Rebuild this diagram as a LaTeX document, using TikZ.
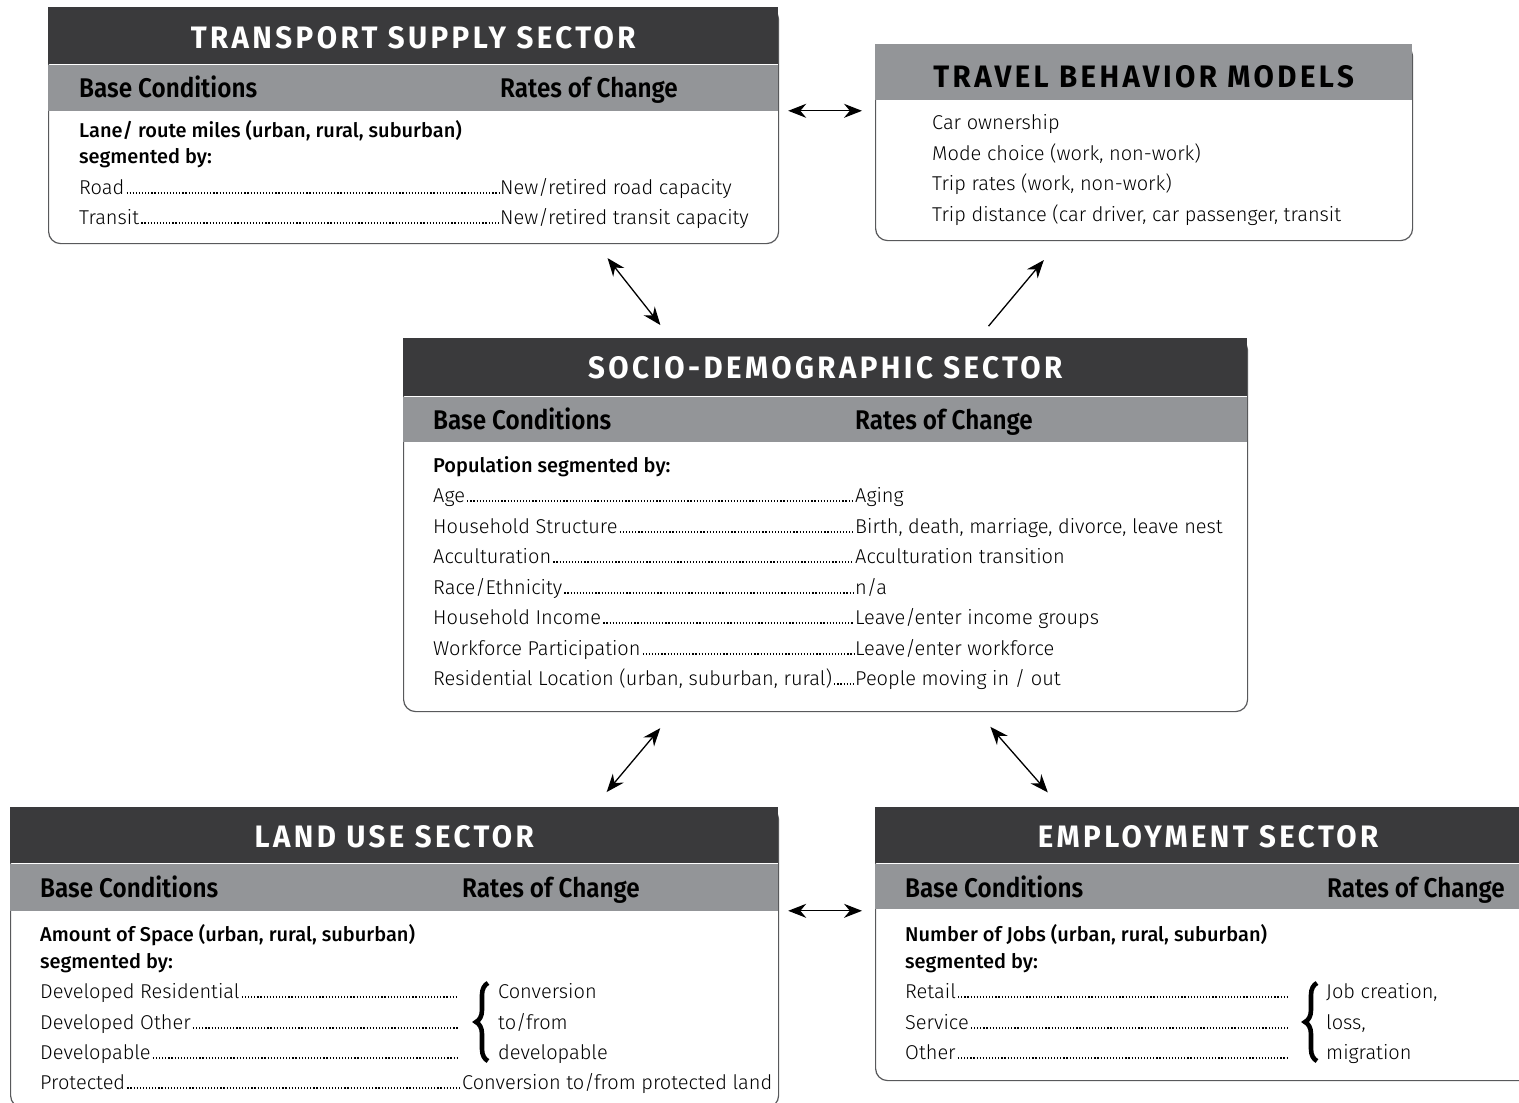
\documentclass[tikz,border=0pt]{standalone}
\usepackage{fontspec}
\setmainfont{Fira Sans}[UprightFont={* Light}, BoldFont={* Medium}]
\newfontfamily\headfont{Fira Sans}[UprightFont={* Bold}, LetterSpace=11, FakeStretch=0.95]
\newfontfamily\bandfont{Fira Sans}[UprightFont={* SemiBold}, FakeStretch=0.9]
\usetikzlibrary{arrows.meta,positioning,decorations.pathreplacing}

\definecolor{headdark}{HTML}{3A3A3C}
\definecolor{bandgray}{HTML}{939598}
\definecolor{edgegray}{HTML}{58595B}

\tikzset{
  panel/.style={draw=edgegray, line width=1.2pt, fill=white, rounded corners=12pt,
    anchor=north west, inner sep=0pt},
  titlebar/.style={fill=headdark, anchor=north west, inner sep=0pt, minimum height=57pt},
  titletext/.style={font=\headfont\fontsize{31}{31}\selectfont},
  band/.style={fill=bandgray, anchor=north west, inner sep=0pt, minimum height=46pt},
  bandtext/.style={anchor=base west, inner sep=0pt, font=\bandfont\fontsize{27}{27}\selectfont},
  item/.style={anchor=base west, inner sep=0pt, font=\fontsize{20}{20}\selectfont},
  intro/.style={anchor=base west, inner sep=0pt, font=\fontsize{20}{20}\selectfont\bfseries},
  leader/.style={line width=1.3pt, dash pattern=on 1.2pt off 1.9pt, shorten <=2pt, shorten >=1pt},
  curly/.style={decorate, decoration={brace, amplitude=12pt}, line width=4.6pt},
  link/.style={<->, >={Stealth[length=18pt, width=14pt]}, line width=1.3pt},
  onelink/.style={->, >={Stealth[length=18pt, width=14pt]}, line width=1.3pt}
}

\begin{document}
\begin{tikzpicture}[x=1pt, y=-1pt]
  \useasboundingbox (0,0) rectangle (1519,1103);
  \fill[white] (0,0) rectangle (1519,1103);
  \clip (0,0) rectangle (1519,1103);

  % transport supply
  \node[panel, minimum width=730pt, minimum height=236pt] (transport) at (48,7) {};
  \node[titlebar, minimum width=730pt] (transport-title) at (transport.north west) {};
  \node[titletext, white] at ([yshift=-2pt]transport-title) {TRANSPORT SUPPLY SECTOR};
  \node[band, minimum width=730pt] (transport-band) at (transport-title.south west) {};
  \node[bandtext] (transport-base) at (79,97) {Base Conditions};
  \node[bandtext] (transport-rate) at (500,97) {Rates of Change};
  \node[intro] (transport-intro) at (79,137) {Lane/ route miles (urban, rural, suburban)};
  \node[intro] (transport-seg) at (79,163) {segmented by:};
  \foreach \yy/\nm/\lft/\rgt in {194/road/Road/{New/retired road capacity},
                                 224/transit/Transit/{New/retired transit capacity}} {
    \node[item] (\nm-l) at (79,\yy) {\lft};
    \node[item] (\nm-r) at (500,\yy) {\rgt};
    \draw[leader] ([yshift=1pt]\nm-l.base east) -- ([yshift=1pt]\nm-r.base west);
  }

  % travel behaviour
  \node[panel, minimum width=537pt, minimum height=196pt] (travel) at (875,44) {};
  \node[band, minimum width=537pt, minimum height=56pt] (travel-title) at (travel.north west) {};
  \node[titletext] at ([yshift=-5pt]travel-title) {TRAVEL BEHAVIOR MODELS};
  \foreach \yy/\nm/\txt in {129/own/Car ownership,
                            160/mode/{Mode choice (work, non-work)},
                            190/rates/{Trip rates (work, non-work)},
                            221/dist/{Trip distance (car driver, car passenger, transit}} {
    \node[item] (travel-\nm) at (932,\yy) {\txt};
  }

  % socio-demographic
  \node[panel, minimum width=844pt, minimum height=373pt] (socio) at (403,338) {};
  \node[titlebar, minimum width=844pt, minimum height=58pt] (socio-title) at (socio.north west) {};
  \node[titletext, white] at ([yshift=-1pt]socio-title) {SOCIO-DEMOGRAPHIC SECTOR};
  \node[band, minimum width=844pt, minimum height=45pt] (socio-band) at (socio-title.south west) {};
  \node[bandtext] (socio-base) at (433,429) {Base Conditions};
  \node[bandtext] (socio-rate) at (855,429) {Rates of Change};
  \node[intro] (socio-intro) at (433,472) {Population segmented by:};
  \foreach \yy/\nm/\lft/\rgt in {502/age/Age/Aging,
      533/house/{Household Structure}/{Birth, death, marriage, divorce, leave nest},
      563/accult/Acculturation/{Acculturation transition},
      594/race/{Race/Ethnicity}/{n/a},
      624/income/{Household Income}/{Leave/enter income groups},
      655/work/{Workforce Participation\hspace{8pt}}/{Leave/enter workforce},
      685/resid/{Residential Location (urban, suburban, rural)}/{People moving in / out}} {
    \node[item] (\nm-l) at (433,\yy) {\lft};
    \node[item] (\nm-r) at (855,\yy) {\rgt};
    \draw[leader] ([yshift=1pt]\nm-l.base east) -- ([yshift=1pt]\nm-r.base west);
  }

  % land use
  \node[panel, minimum width=768pt, minimum height=300pt] (land) at (10,807) {};
  \node[titlebar, minimum width=768pt, minimum height=56pt] (land-title) at (land.north west) {};
  \node[titletext, white] at ([yshift=-2pt]land-title) {LAND USE SECTOR};
  \node[band, minimum width=768pt, minimum height=47pt] (land-band) at (land-title.south west) {};
  \node[bandtext] (land-base) at (40,897) {Base Conditions};
  \node[bandtext] (land-rate) at (462,897) {Rates of Change};
  \node[intro] (land-intro) at (40,941) {Amount of Space (urban, rural, suburban)};
  \node[intro] (land-seg) at (40,968) {segmented by:};
  \foreach \yy/\nm/\lft/\rgt in {998/devres/{Developed Residential}/Conversion,
                                 1029/devoth/{Developed Other}/{to/from},
                                 1059/devable/Developable/developable} {
    \node[item] (\nm-l) at (40,\yy) {\lft};
    \node[item] (\nm-r) at (498,\yy) {\rgt};
    \coordinate (\nm-end) at (459,\yy);
    \draw[leader] ([yshift=1pt]\nm-l.base east) -- ([yshift=1pt]\nm-end);
  }
  \node[item] (prot-l) at (40,1089) {Protected};
  \node[item] (prot-r) at (462,1089) {Conversion to/from protected land};
  \draw[leader] ([yshift=1pt]prot-l.base east) -- ([yshift=1pt]prot-r.base west);
  \draw[curly] (488,1061) -- (488,983);

  % employment
  \node[panel, minimum width=660pt, minimum height=273pt] (emp) at (875,807) {};
  \node[titlebar, minimum width=660pt, minimum height=56pt] (emp-title) at (emp.north west) {};
  \node[titletext, white] at (1208,837) {EMPLOYMENT SECTOR};
  \node[band, minimum width=660pt, minimum height=45pt] (emp-band) at (emp-title.south west) {};
  \node[bandtext] (emp-base) at (905,897) {Base Conditions};
  \node[bandtext] (emp-rate) at (1327,897) {Rates of Change};
  \node[intro] (emp-intro) at (905,941) {Number of Jobs (urban, rural, suburban)};
  \node[intro] (emp-seg) at (905,968) {segmented by:};
  \foreach \yy/\nm/\lft/\rgt in {998/retail/Retail/{Job creation,},
                                 1029/service/Service/{loss,},
                                 1059/other/Other/migration} {
    \node[item] (\nm-l) at (905,\yy) {\lft};
    \node[item] (\nm-r) at (1326,\yy) {\rgt};
    \coordinate (\nm-end) at (1289,\yy);
    \draw[leader] ([yshift=1pt]\nm-l.base east) -- ([yshift=1pt]\nm-end);
  }
  \draw[curly] (1317,1061) -- (1317,983);

  % links between sectors
  \draw[link, shorten <=9pt, shorten >=13pt] (transport.east |- transport-band.south)
    -- (travel.west |- transport-band.south);
  \draw[link, shorten <=17.7pt, shorten >=16.5pt] ([xshift=183pt]transport.south)
    -- ([xshift=-155pt]socio.north);
  \draw[onelink, shorten <=15.5pt, shorten >=24.6pt] ([xshift=153pt]socio.north)
    -- ([xshift=-84.5pt]travel.south);
  \draw[link, shorten <=20.8pt, shorten >=19.5pt] ([xshift=-152pt]socio.south)
    -- ([xshift=199.5pt]land.north);
  \draw[link, shorten <=19.4pt, shorten >=19.4pt] ([xshift=152pt]socio.south)
    -- ([xshift=-145pt]emp.north);
  \draw[link, shorten <=9pt, shorten >=13pt] (land.east |- land-band.south)
    -- (emp.west |- land-band.south);
\end{tikzpicture}
\end{document}
